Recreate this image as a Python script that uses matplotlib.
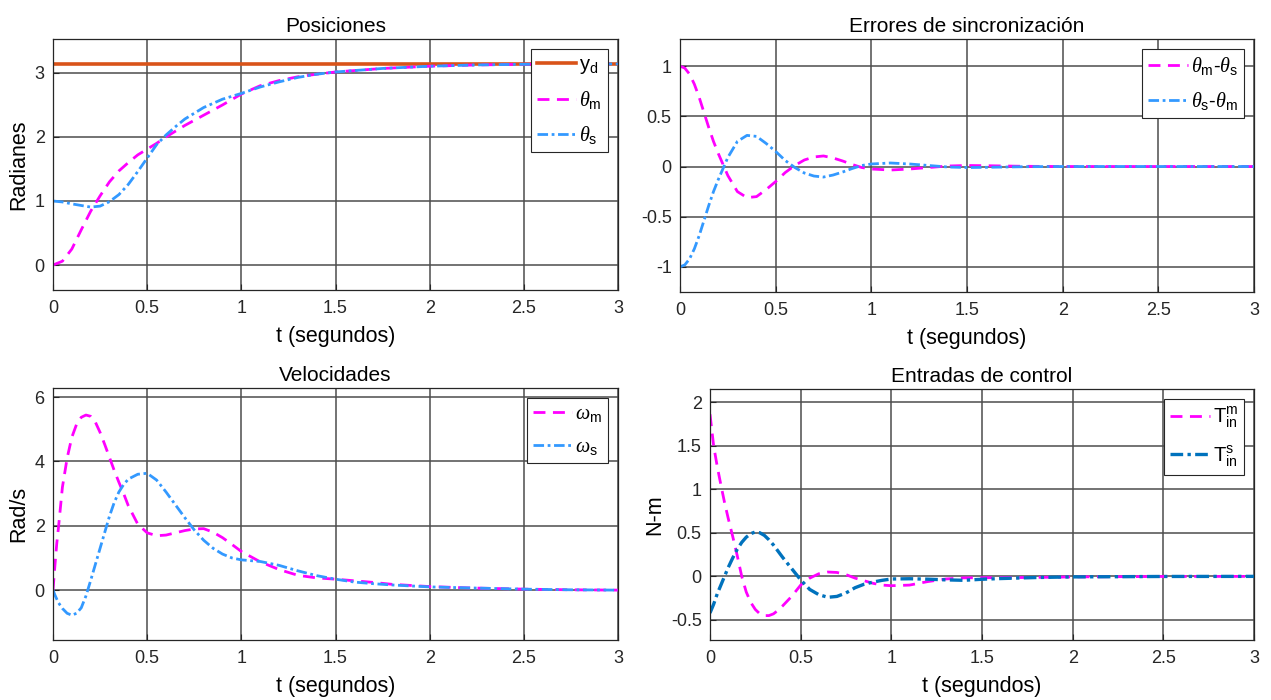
import numpy as np
import matplotlib
matplotlib.use("Agg")
import matplotlib.pyplot as plt

plt.rcParams['font.family'] = ['Liberation Sans', 'DejaVu Sans']
plt.rcParams['mathtext.fontset'] = 'custom'
plt.rcParams['mathtext.rm'] = 'Liberation Sans'
plt.rcParams['mathtext.it'] = 'Liberation Serif:italic'
plt.rcParams['mathtext.bf'] = 'Liberation Sans:bold'

# --- posiciones ---
t_ref = [0, 3]
y_d = [3.1416, 3.1416]
t_pos = [0, 0.05, 0.1, 0.15, 0.2, 0.25, 0.3, 0.35, 0.4, 0.45, 0.5, 0.55, 0.6, 0.65,
         0.7, 0.8, 0.9, 1.0, 1.1, 1.2, 1.3, 1.4, 1.5, 1.75, 2.0, 2.25, 2.5, 2.75, 3.0]
theta_m = [0, 0.06, 0.25, 0.55, 0.84, 1.08, 1.30, 1.47, 1.60, 1.72, 1.81, 1.90, 2.00, 2.09,
           2.18, 2.34, 2.50, 2.67, 2.80, 2.88, 2.94, 2.98, 3.015, 3.07, 3.105, 3.125, 3.135, 3.14, 3.14]
theta_s = [1.0, 0.985, 0.955, 0.93, 0.905, 0.92, 0.99, 1.10, 1.26, 1.46, 1.67, 1.88, 2.03, 2.16,
           2.28, 2.46, 2.59, 2.68, 2.78, 2.86, 2.93, 2.98, 3.015, 3.07, 3.105, 3.125, 3.135, 3.14, 3.14]

# --- errores de sincronizacion ---
t_err = [0, 0.025, 0.05, 0.075, 0.1, 0.125, 0.15, 0.175, 0.2, 0.25, 0.3, 0.35, 0.4, 0.45,
         0.5, 0.55, 0.6, 0.65, 0.7, 0.75, 0.8, 0.85, 0.9, 0.95, 1.0, 1.1, 1.2, 1.3, 1.4,
         1.5, 1.6, 1.8, 2.0, 2.5, 3.0]
e_ms = [1.0, 0.98, 0.92, 0.82, 0.69, 0.54, 0.39, 0.25, 0.13, -0.09, -0.25, -0.31, -0.30, -0.23,
        -0.15, -0.06, 0.01, 0.065, 0.095, 0.105, 0.085, 0.055, 0.02, -0.01, -0.025, -0.035,
        -0.025, -0.01, 0.005, 0.01, 0.008, 0.002, 0.0, 0.0, 0.0]
e_sm = [-1.0, -0.98, -0.92, -0.82, -0.69, -0.54, -0.39, -0.25, -0.13, 0.09, 0.25, 0.31, 0.30, 0.23,
        0.15, 0.06, -0.01, -0.065, -0.095, -0.105, -0.085, -0.055, -0.02, 0.01, 0.025, 0.035,
        0.025, 0.01, -0.005, -0.01, -0.008, -0.002, 0.0, 0.0, 0.0]

# --- velocidades ---
t_vel = [0, 0.01, 0.02, 0.03, 0.05, 0.075, 0.1, 0.125, 0.15, 0.175, 0.2, 0.225, 0.25, 0.275,
         0.3, 0.325, 0.35, 0.375, 0.4, 0.45, 0.5, 0.55, 0.6, 0.65, 0.7, 0.75, 0.8, 0.85, 0.9,
         0.95, 1.0, 1.1, 1.2, 1.3, 1.4, 1.5, 1.6, 1.7, 1.8, 2.0, 2.2, 2.5, 2.75, 3.0]
w_m = [0, 0.75, 1.45, 2.0, 3.2, 4.1, 4.75, 5.15, 5.37, 5.44, 5.4, 5.22, 4.9, 4.52,
       4.12, 3.72, 3.35, 3.0, 2.62, 2.05, 1.78, 1.69, 1.71, 1.78, 1.85, 1.9, 1.91, 1.8, 1.63,
       1.42, 1.2, 0.88, 0.64, 0.46, 0.38, 0.34, 0.29, 0.24, 0.18, 0.11, 0.07, 0.03, 0.01, 0.0]
w_s = [0, -0.15, -0.28, -0.4, -0.57, -0.72, -0.78, -0.72, -0.55, -0.18, 0.3, 0.8, 1.3, 1.8,
       2.3, 2.72, 3.05, 3.28, 3.45, 3.6, 3.63, 3.42, 3.05, 2.65, 2.25, 1.87, 1.55, 1.3, 1.12,
       1.0, 0.94, 0.89, 0.77, 0.6, 0.45, 0.34, 0.25, 0.2, 0.16, 0.1, 0.07, 0.03, 0.01, 0.0]

# --- entradas de control ---
t_ctl = [0, 0.02, 0.04, 0.06, 0.08, 0.1, 0.125, 0.15, 0.175, 0.2, 0.225, 0.25, 0.275, 0.3,
         0.325, 0.35, 0.375, 0.4, 0.45, 0.5, 0.55, 0.6, 0.65, 0.7, 0.75, 0.8, 0.85, 0.9, 0.95,
         1.0, 1.1, 1.2, 1.3, 1.4, 1.5, 1.6, 1.8, 2.0, 2.5, 3.0]
T_m = [1.86, 1.5, 1.26, 1.05, 0.85, 0.67, 0.46, 0.24, 0.0, -0.18, -0.3, -0.38, -0.43, -0.45,
       -0.45, -0.43, -0.39, -0.34, -0.23, -0.1, -0.02, 0.03, 0.05, 0.045, 0.02, -0.02, -0.05,
       -0.08, -0.1, -0.107, -0.1, -0.06, -0.03, -0.017, -0.015, -0.015, -0.012, -0.006, -0.001, 0.0]
T_s = [-0.42, -0.32, -0.2, -0.1, 0.0, 0.1, 0.21, 0.31, 0.39, 0.45, 0.49, 0.51, 0.5, 0.47,
       0.42, 0.36, 0.29, 0.22, 0.09, -0.04, -0.15, -0.21, -0.24, -0.23, -0.19, -0.13, -0.09,
       -0.065, -0.045, -0.03, -0.027, -0.032, -0.04, -0.045, -0.033, -0.025, -0.013, -0.006,
       -0.001, 0.0]

x_ticks = [0, 0.5, 1, 1.5, 2, 2.5, 3]
x_ticklabels = ['0', '0.5', '1', '1.5', '2', '2.5', '3']

MAG = '#FF00FF'
LBLUE = '#3399FF'
ORANGE = '#D95319'
DBLUE = '#0072BD'
DASH = (4.3, 2.7)
DASHDOT = (3.8, 1.3, 1.0, 1.3)

fig = plt.figure(figsize=(12.71, 7.0), dpi=100)
W, H = 1271, 700


def make_ax(x0, x1, y0, y1):
    return fig.add_axes([x0 / W, 1 - y1 / H, (x1 - x0) / W, (y1 - y0) / H])


def style(ax, title, ylabel, ylim, yticks, yticklabels):
    ax.set_xlim(0, 3)
    ax.set_ylim(*ylim)
    ax.set_xticks(x_ticks)
    ax.set_xticklabels(x_ticklabels)
    ax.set_yticks(yticks)
    ax.set_yticklabels(yticklabels)
    ax.grid(True, color='0.3', linewidth=1.1)
    ax.set_axisbelow(True)
    ax.tick_params(direction='in', length=4, labelsize=13, colors='0.15')
    ax.tick_params(axis='x', pad=7)
    ax.tick_params(axis='y', pad=6)
    for s in ax.spines.values():
        s.set_linewidth(0.9)
        s.set_color('0.15')
    ax.set_title(title, fontsize=15, pad=5)
    ax.set_xlabel('t (segundos)', fontsize=15.5, labelpad=7)
    if ylabel:
        ax.set_ylabel(ylabel, fontsize=15.5, labelpad=4)


def legend(ax):
    leg = ax.legend(loc='upper right', fontsize=14.5, handlelength=1.95, borderaxespad=0.5,
                    fancybox=False, framealpha=1, edgecolor='0.15', labelspacing=0.65,
                    handletextpad=0.15, borderpad=0.3)
    leg.get_frame().set_linewidth(0.8)


lw = 2.0

# Posiciones
ax1 = make_ax(53, 618, 39, 290)
ax1.plot(t_ref, y_d, color=ORANGE, lw=2.6, label=r'y$_\mathrm{d}$')
ax1.plot(t_pos, theta_m, '--', dashes=DASH, color=MAG, lw=lw, label=r'$\theta_\mathrm{m}$')
ax1.plot(t_pos, theta_s, '-.', dashes=DASHDOT, color=LBLUE, lw=lw, label=r'$\theta_\mathrm{s}$')
style(ax1, 'Posiciones', 'Radianes', (-0.39, 3.53), [0, 1, 2, 3], ['0', '1', '2', '3'])
legend(ax1)

# Errores
ax2 = make_ax(680, 1254, 39, 292)
ax2.plot(t_err, e_ms, '--', dashes=DASH, color=MAG, lw=lw,
         label=r'$\theta_\mathrm{m}$-$\theta_\mathrm{s}$')
ax2.plot(t_err, e_sm, '-.', dashes=DASHDOT, color=LBLUE, lw=lw,
         label=r'$\theta_\mathrm{s}$-$\theta_\mathrm{m}$')
style(ax2, 'Errores de sincronización', None, (-1.25, 1.27),
      [-1, -0.5, 0, 0.5, 1], ['-1', '-0.5', '0', '0.5', '1'])
legend(ax2)

# Velocidades
ax3 = make_ax(53, 618, 388, 640)
ax3.plot(t_vel, w_m, '--', dashes=DASH, color=MAG, lw=lw, label=r'$\omega_\mathrm{m}$')
ax3.plot(t_vel, w_s, '-.', dashes=DASHDOT, color=LBLUE, lw=lw, label=r'$\omega_\mathrm{s}$')
style(ax3, 'Velocidades', 'Rad/s', (-1.55, 6.28), [0, 2, 4, 6], ['0', '2', '4', '6'])
legend(ax3)

# Entradas de control
ax4 = make_ax(710, 1254, 389, 640)
ax4.plot(t_ctl, T_m, '--', dashes=DASH, color=MAG, lw=lw, label=r'T$_\mathrm{in}^\mathrm{m}$')
ax4.plot(t_ctl, T_s, '-.', dashes=DASHDOT, color=DBLUE, lw=2.4, label=r'T$_\mathrm{in}^\mathrm{s}$')
style(ax4, 'Entradas de control', 'N-m', (-0.73, 2.15),
      [-0.5, 0, 0.5, 1, 1.5, 2], ['-0.5', '0', '0.5', '1', '1.5', '2'])
legend(ax4)

fig.savefig('out.png', dpi=100)
